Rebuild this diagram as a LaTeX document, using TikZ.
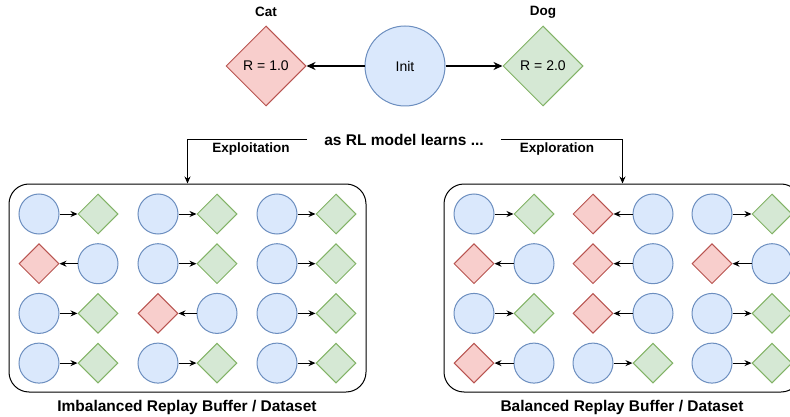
\documentclass[tikz,border=0pt]{standalone}
\usepackage{fontspec}
\setmainfont{Liberation Sans}
\usetikzlibrary{shapes.geometric,arrows.meta}

\definecolor{statefill}{HTML}{DAE8FC}
\definecolor{stateline}{HTML}{6C8EBF}
\definecolor{dogfill}{HTML}{D5E8D4}
\definecolor{dogline}{HTML}{82B366}
\definecolor{catfill}{HTML}{F8CECC}
\definecolor{catline}{HTML}{B85450}

\tikzset{
  state/.style={draw=stateline, fill=statefill, circle, minimum size=40pt, inner sep=0pt, line width=1pt},
  dog/.style={draw=dogline, fill=dogfill, diamond, aspect=1, minimum size=40pt, inner sep=0pt, line width=1pt},
  cat/.style={draw=catline, fill=catfill, diamond, aspect=1, minimum size=40pt, inner sep=0pt, line width=1pt},
  gleft/.style={state}, gright/.style={dog},
  rleft/.style={cat}, rright/.style={state},
  garrow/.style={line width=1pt, -{Stealth[length=7pt,width=6pt]}},
  rarrow/.style={line width=1pt, {Stealth[length=7pt,width=6pt]}-},
  caption/.style={font=\bfseries\fontsize{15.5}{18}\selectfont},
  tag/.style={font=\bfseries\fontsize{13.5}{16}\selectfont},
  buffer/.style={draw, rounded corners=20pt, line width=1pt, minimum width=357pt, minimum height=208pt}
}

\begin{document}
\begin{tikzpicture}[x=1pt,y=-1pt]
\useasboundingbox (0,0) rectangle (790,417);

% top: one state, two rewards
\node[cat, minimum size=80pt, font=\fontsize{14}{16}\selectfont] (cat) at (266,66) {R = 1.0};
\node[state, minimum size=80pt, font=\fontsize{14}{16}\selectfont] (init) at (405,66) {Init};
\node[dog, minimum size=80pt, font=\fontsize{14}{16}\selectfont] (dog) at (543,66) {R = 2.0};
\node[tag] (catname) at (266,12) {Cat};
\node[tag] (dogname) at (543,12) {Dog};
\path[draw,line width=1.5pt,-{Stealth[length=9pt,width=8pt]}] (init) -- (cat);
\path[draw,line width=1.5pt,-{Stealth[length=9pt,width=8pt]}] (init) -- (dog);

\node[caption, inner xsep=17pt] (learn) at (404,140) {as RL model learns ...};

% the two buffers
\node[buffer] (lbuf) at (187.5,288) {};
\node[buffer] (rbuf) at (622.5,288) {};
\node[caption] (lname) at (187,407) {Imbalanced Replay Buffer / Dataset};
\node[caption] (rname) at (622,407) {Balanced Replay Buffer / Dataset};

\draw[line width=1pt,-{Stealth[length=7pt,width=6pt]}] (learn.west) -| (lbuf.north);
\draw[line width=1pt,-{Stealth[length=7pt,width=6pt]}] (learn.east) -| (rbuf.north);
\node[tag] (exploit) at (251,149) {Exploitation};
\node[tag] (explore) at (557,149) {Exploration};

% g = state -> dog, r = cat <- state
\foreach \r/\c/\k in {1/1/g,1/2/g,1/3/g,2/1/r,2/2/g,2/3/g,3/1/g,3/2/r,3/3/g,4/1/g,4/2/g,4/3/g}{
  \node[\k left] (la-\r-\c) at (119*\c-80, 49.7*\r+164.3) {};
  \node[\k right] (ra-\r-\c) at (119*\c-21, 49.7*\r+164.3) {};
  \path[draw,\k arrow] (la-\r-\c) -- (ra-\r-\c);
}
\foreach \r/\c/\k in {1/1/g,1/2/r,1/3/g,2/1/r,2/2/r,2/3/r,3/1/g,3/2/r,3/3/g,4/1/r,4/2/g,4/3/g}{
  \node[\k left] (lb-\r-\c) at (119*\c+355, 49.7*\r+164.3) {};
  \node[\k right] (rb-\r-\c) at (119*\c+415, 49.7*\r+164.3) {};
  \path[draw,\k arrow] (lb-\r-\c) -- (rb-\r-\c);
}
\end{tikzpicture}
\end{document}
